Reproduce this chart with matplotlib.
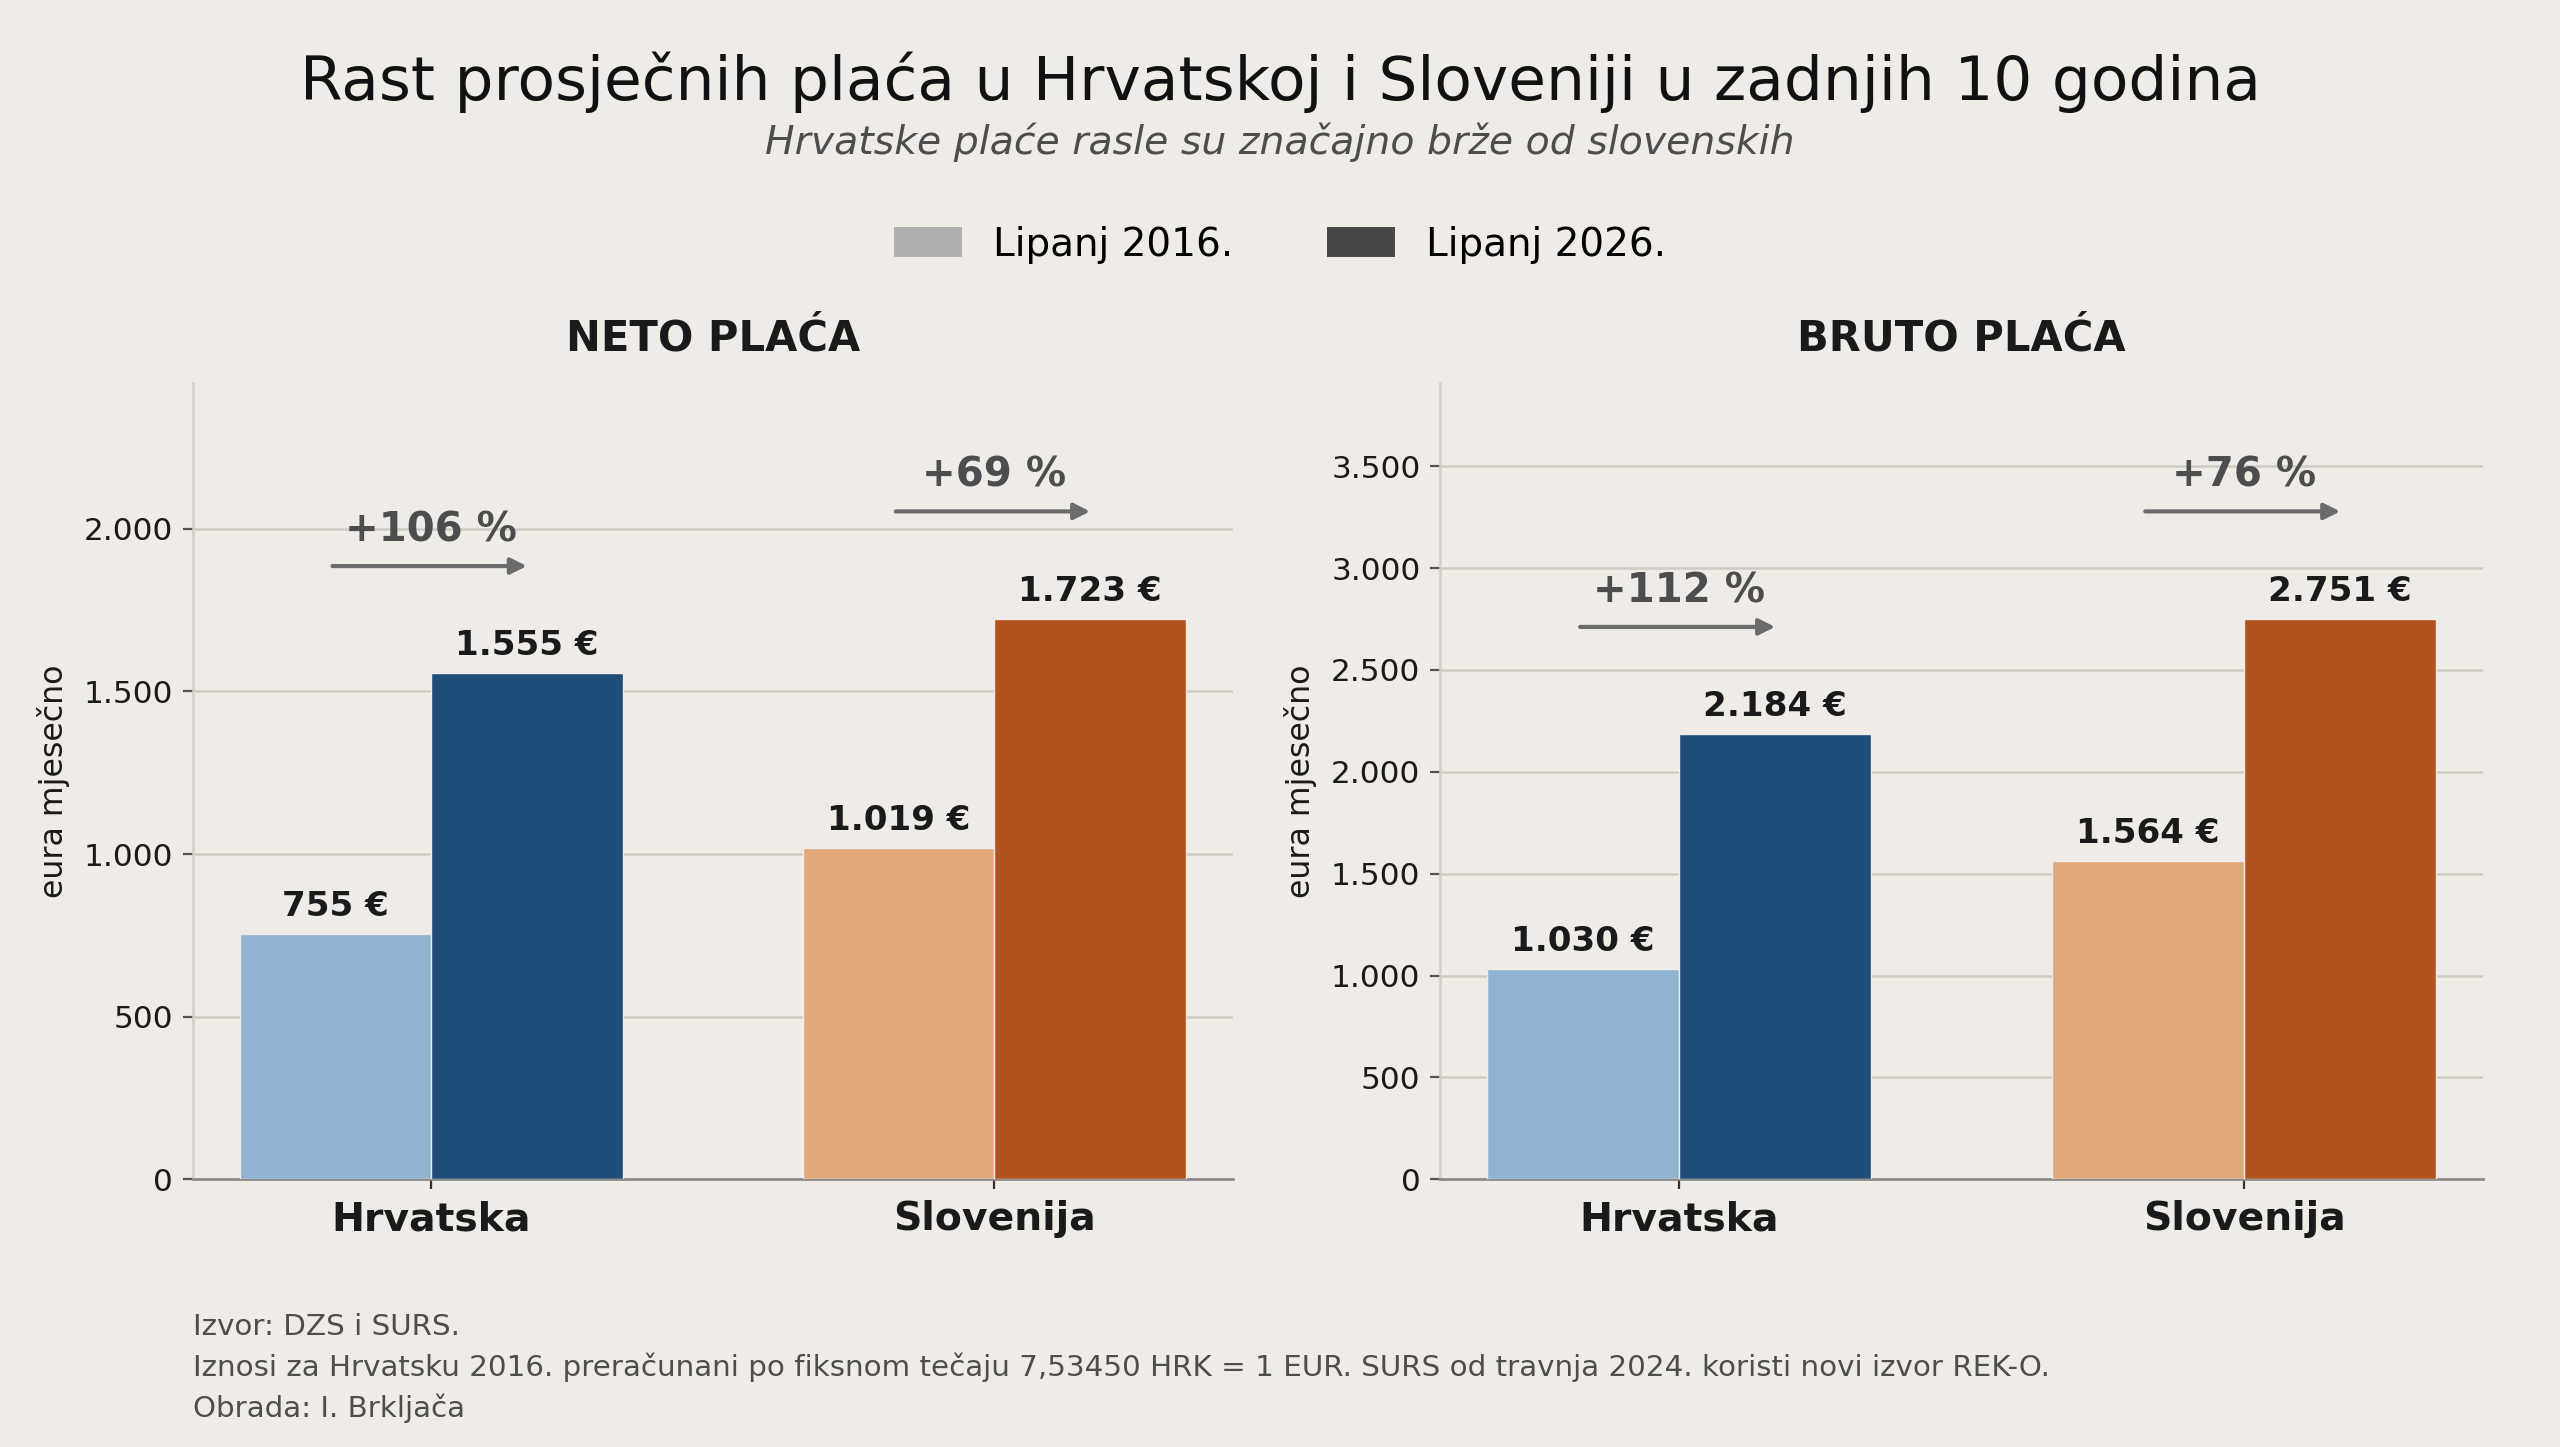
import matplotlib
matplotlib.use("Agg")
import matplotlib.pyplot as plt
from matplotlib.patches import Patch
import numpy as np

plt.rcParams['font.family'] = ['DejaVu Sans']

countries = ["Hrvatska", "Slovenija"]
neto_2016 = [755, 1019]
neto_2026 = [1555, 1723]
bruto_2016 = [1030, 1564]
bruto_2026 = [2184, 2751]
neto_growth = ["+106 %", "+69 %"]
bruto_growth = ["+112 %", "+76 %"]
panel_titles = ["NETO PLAĆA", "BRUTO PLAĆA"]
legend_labels = ["Lipanj 2016.", "Lipanj 2026."]

BG = "#efece7"
light_cols = ["#91b3d2", "#e1a87c"]
dark_cols = ["#1f4e78", "#b1531e"]

def fmt(v):
    return f"{v:,}".replace(",", ".")

fig = plt.figure(figsize=(12.8, 7.235), dpi=200, facecolor=BG)
axes = [fig.add_axes([0.0753, 0.185, 0.4062, 0.550]),
        fig.add_axes([0.5625, 0.185, 0.4075, 0.550])]

data = [(neto_2016, neto_2026, neto_growth), (bruto_2016, bruto_2026, bruto_growth)]
w = 0.34
x = np.arange(len(countries))
for ax, (v16, v26, gr), title in zip(axes, data, panel_titles):
    ax.set_facecolor(BG)
    ymax = max(max(v16), max(v26)) * 1.42
    ax.bar(x - w / 2, v16, w, color=light_cols, edgecolor=BG, linewidth=0.5, zorder=3)
    ax.bar(x + w / 2, v26, w, color=dark_cols, edgecolor=BG, linewidth=0.5, zorder=3)
    for i in range(len(countries)):
        ax.annotate(f"{fmt(v16[i])} €", (x[i] - w / 2, v16[i]), xytext=(0, 4),
                    textcoords="offset points", ha="center", va="bottom",
                    fontsize=12.3, fontweight="bold", color="#1a1a1a", zorder=4)
        ax.annotate(f"{fmt(v26[i])} €", (x[i] + w / 2, v26[i]), xytext=(0, 4),
                    textcoords="offset points", ha="center", va="bottom",
                    fontsize=12.3, fontweight="bold", color="#1a1a1a", zorder=4)
        top = max(v16[i], v26[i])
        ya = top + 0.135 * ymax
        ax.annotate("", xy=(x[i] + 0.17, ya), xytext=(x[i] - 0.175, ya),
                    arrowprops=dict(arrowstyle="-|>", color="#6b6b6b", lw=1.5,
                                    mutation_scale=12, shrinkA=0, shrinkB=0), zorder=4)
        ax.text(x[i], top + 0.18 * ymax, gr[i], ha="center", va="center",
                fontsize=14.5, fontweight="bold", color="#4d4d4d", zorder=4)
    ax.set_ylim(0, ymax)
    ax.set_xlim(-0.423, 1.423)
    ax.set_xticks(x)
    ax.set_xticklabels(countries, fontsize=14.2, fontweight="bold", color="#1a1a1a")
    ax.yaxis.set_major_formatter(matplotlib.ticker.FuncFormatter(lambda v, p: fmt(int(v))))
    ax.tick_params(axis="y", labelsize=11.2, colors="#1a1a1a", length=3.5, width=0.8)
    ax.tick_params(axis="y", color="#555555")
    ax.tick_params(axis="x", length=3.5, width=0.8, color="#333333", pad=4)
    ax.grid(axis="y", color="#cfcbc4", linewidth=0.9, zorder=0)
    ax.set_axisbelow(True)
    for s in ["top", "right"]:
        ax.spines[s].set_visible(False)
    ax.spines["left"].set_color("#d3cfc8")
    ax.spines["left"].set_linewidth(0.9)
    ax.spines["bottom"].set_color("#8c8c8c")
    ax.spines["bottom"].set_linewidth(1.0)
    ax.set_ylabel("eura mjesečno", fontsize=11.4, color="#1a1a1a", labelpad=5)
    ax.set_title(title, fontsize=15, fontweight="bold", color="#1a1a1a", pad=12)

fig.text(0.5, 0.943, "Rast prosječnih plaća u Hrvatskoj i Sloveniji u zadnjih 10 godina",
         ha="center", va="center", fontsize=22.1, color="#111111")
fig.text(0.5, 0.902, "Hrvatske plaće rasle su značajno brže od slovenskih",
         ha="center", va="center", fontsize=14.2, style="italic", color="#4d4d4d")

handles = [Patch(facecolor="#b0b0b0", edgecolor="none"),
           Patch(facecolor="#474747", edgecolor="none")]
fig.legend(handles, legend_labels, loc="center", bbox_to_anchor=(0.5, 0.831), ncol=2,
           frameon=False, fontsize=14, handlelength=1.75, handleheight=0.8,
           columnspacing=2.4, handletextpad=0.8)

footer = ["Izvor: DZS i SURS.",
          "Iznosi za Hrvatsku 2016. preračunani po fiksnom tečaju 7,53450 HRK = 1 EUR. SURS od travnja 2024. koristi novi izvor REK-O.",
          "Obrada: I. Brkljača"]
for i, line in enumerate(footer):
    fig.text(0.0753, 0.083 - i * 0.028, line, ha="left", va="center",
             fontsize=10.6, color="#4d4d4d")

fig.savefig("out.png", dpi=200, facecolor=BG)
